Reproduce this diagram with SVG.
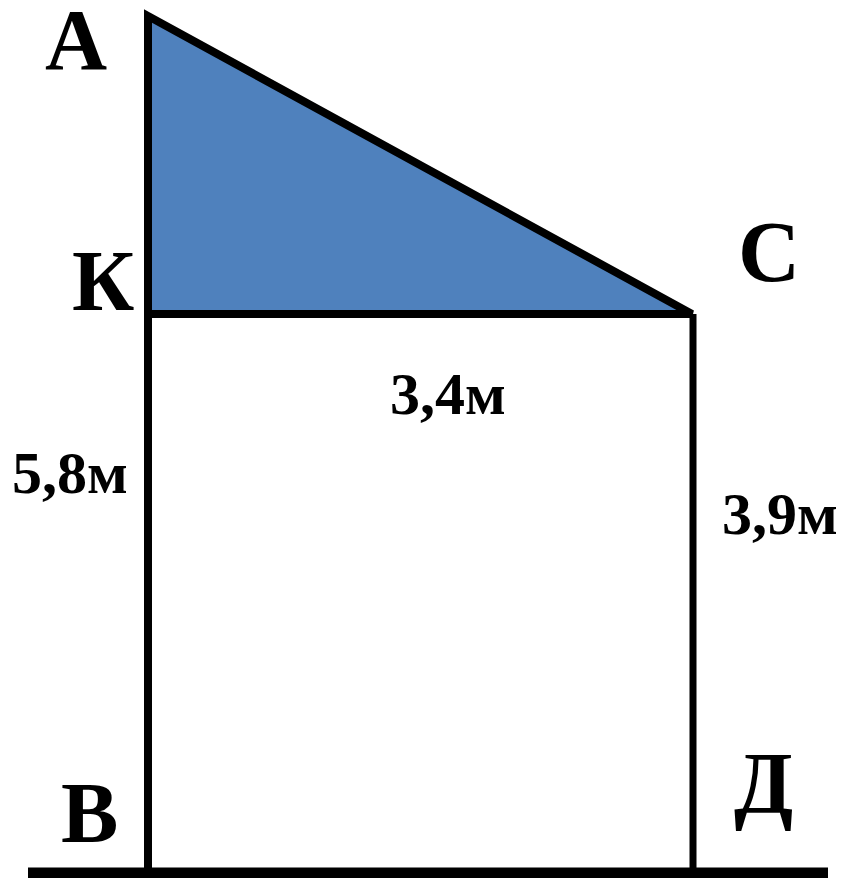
<svg xmlns="http://www.w3.org/2000/svg" width="845" height="878" viewBox="0 0 845 878">
<style>
.lbl{font-family:"Liberation Serif","Times New Roman",serif;font-weight:bold;fill:#000}
.big{font-size:86px}
.dim{font-size:60px}
.ln{stroke:#000;fill:none}
</style>
<rect width="845" height="878" fill="#fff"/>
<g id="connectors">
<line class="ln" x1="148" y1="314" x2="148" y2="868" stroke-width="8"/>
<line class="ln" x1="693" y1="314" x2="693" y2="868" stroke-width="7"/>
<line class="ln" x1="28" y1="873" x2="828" y2="873" stroke-width="11"/>
</g>
<g id="triangle">
<polygon points="148,16 692,314 148,314" fill="#4F81BD" stroke="#000" stroke-width="8" stroke-linejoin="miter"/>
</g>
<g id="labels">
<text class="lbl big" x="45" y="69">А</text>
<text class="lbl big" x="72" y="310">К</text>
<text class="lbl big" x="738" y="281">С</text>
<text class="lbl big" x="61" y="842">В</text>
<text class="lbl big" x="734" y="812">Д</text>
<text class="lbl dim" x="390" y="414">3,4м</text>
<text class="lbl dim" x="12" y="493">5,8м</text>
<text class="lbl dim" x="722" y="534">3,9м</text>
</g>
</svg>
